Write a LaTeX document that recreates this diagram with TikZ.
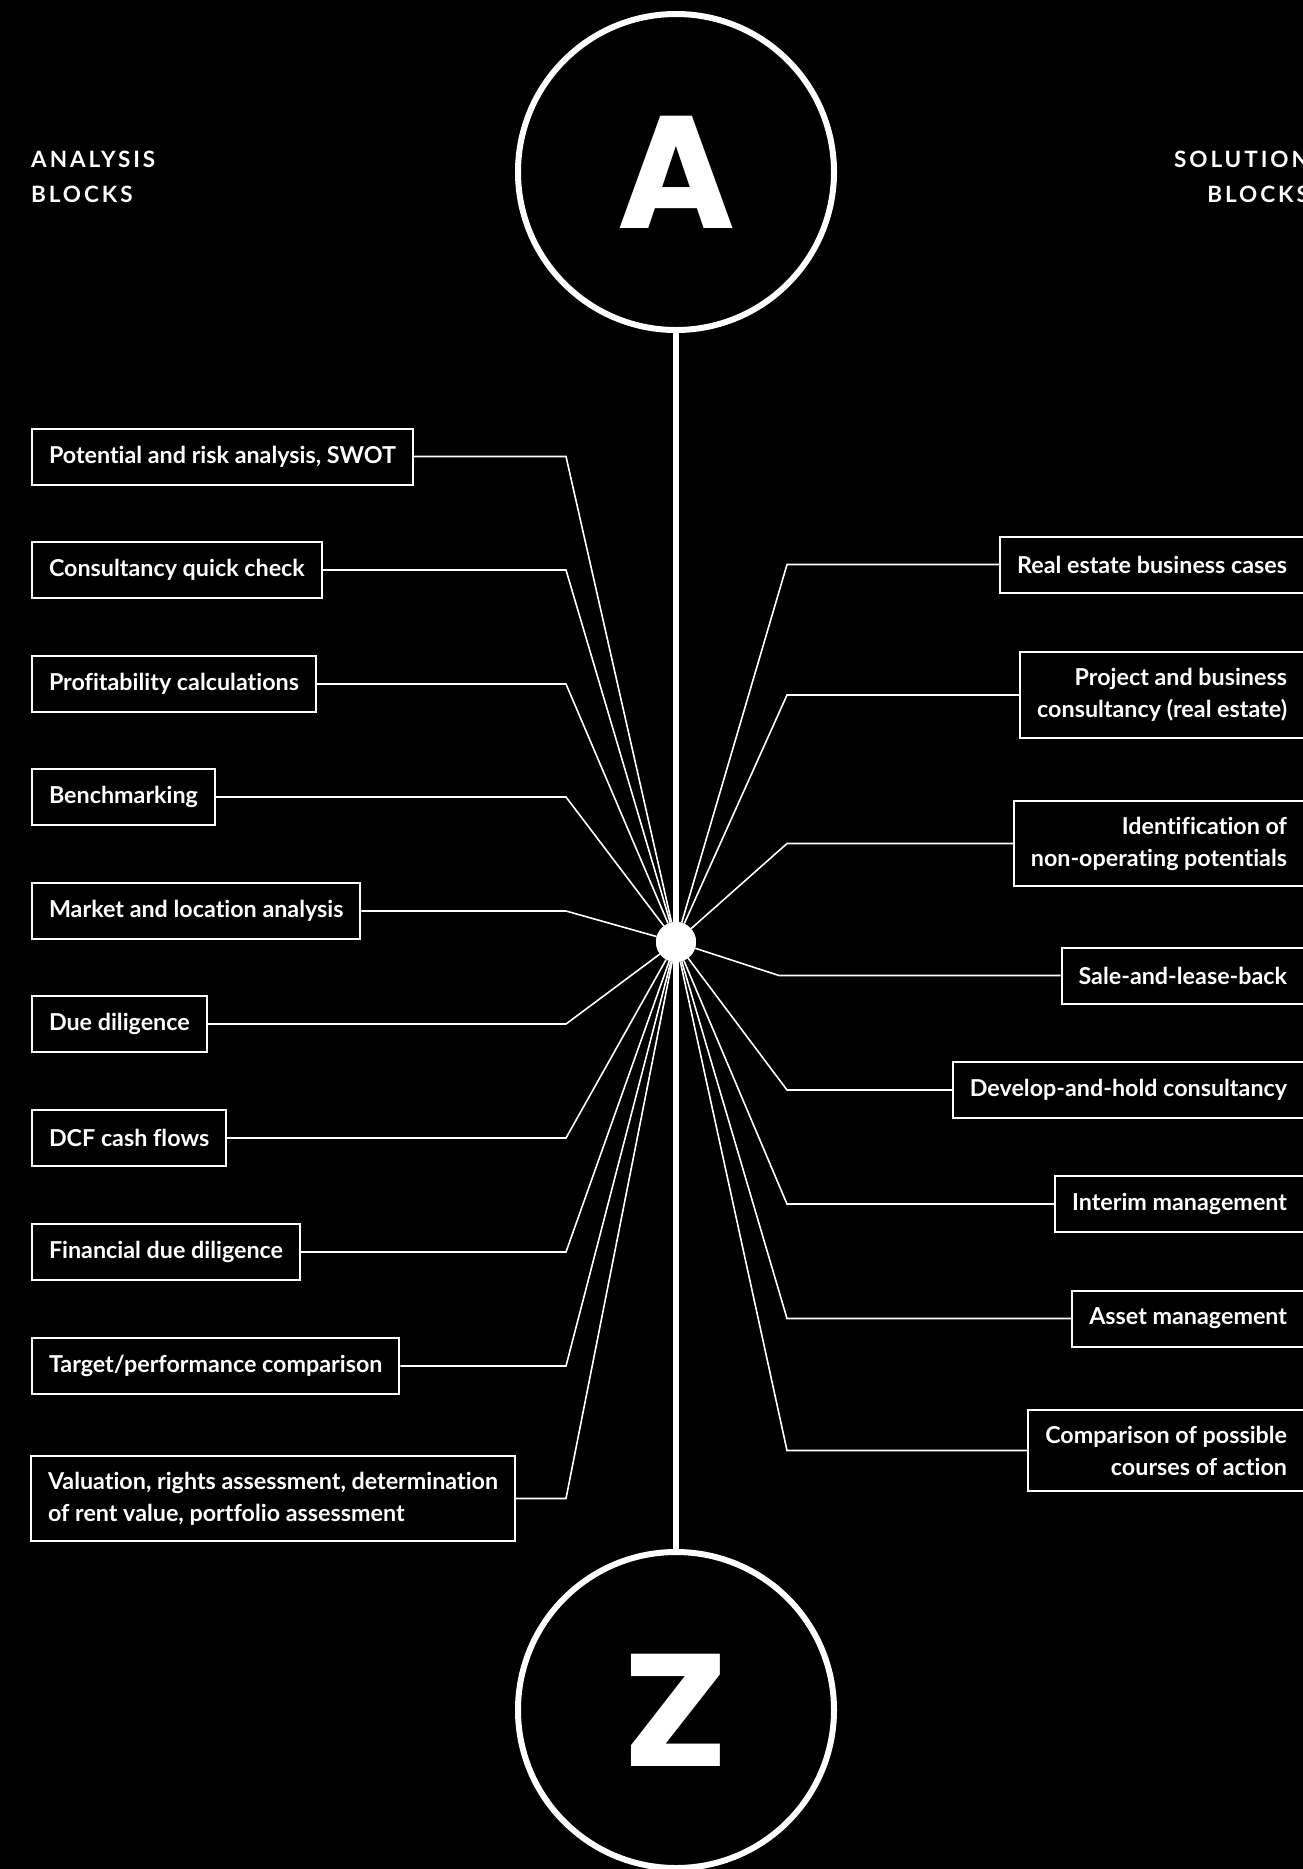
\documentclass[tikz,border=0pt]{standalone}
\usepackage{fontspec}
\setmainfont{Lato}[Ligatures=NoCommon]
\newfontfamily\bigfont{Poppins}
\newfontfamily\headfont{Lato}[LetterSpace=13]
\begin{document}
\begin{tikzpicture}[x=1pt,y=-1pt,
  box/.style={draw=white, line width=2pt, text=white, font=\bfseries\fontsize{23.3}{32}\selectfont, inner xsep=17pt, inner ysep=16pt, minimum height=56pt},
  conn/.style={draw=white, line width=1.6pt},
  bigcirc/.style={circle, draw=white, line width=6pt, minimum size=316pt, inner sep=0pt, text=white, font=\bigfont\bfseries\fontsize{160}{160}\selectfont},
  head/.style={text=white, inner sep=0pt, font=\headfont\bfseries\fontsize{22.5}{35}\selectfont}]
\fill[black] (0,0) rectangle (1303,1869);
\useasboundingbox (0,0) rectangle (1303,1869);

% headings
\node[head, anchor=north west, align=left] (ha) at (31,151) {ANALYSIS\\BLOCKS};
\node[head, anchor=north east, align=right] (hs) at (1309,151) {SOLUTION\\BLOCKS};

% big circles
\node[bigcirc] (A) at (676,172) {A};
\node[bigcirc] (Z) at (676,1710) {\scalebox{1.12}[1]{Z}};
\draw[white, line width=6pt] (A.south) -- (Z.north);

% hub
\node[circle, fill=white, minimum size=40pt, inner sep=0pt] (hub) at (676,942) {};

% joint columns
\coordinate (jl) at (566,0);
\coordinate (jr) at (787,0);
\coordinate (js) at (779,0);

% left boxes
\node[box, anchor=west] (L1) at (31,456.5) {Potential and risk analysis, SWOT};
\node[box, anchor=west] (L2) at (31,570) {Consultancy quick check};
\node[box, anchor=west] (L3) at (31,684) {Profitability calculations};
\node[box, anchor=west] (L4) at (31,797) {Benchmarking};
\node[box, anchor=west] (L5) at (31,911) {Market and location analysis};
\node[box, anchor=west] (L6) at (31,1024) {Due diligence};
\node[box, anchor=west] (L7) at (31,1138) {DCF cash flows};
\node[box, anchor=west] (L8) at (31,1252) {Financial due diligence};
\node[box, anchor=west] (L9) at (31,1366) {Target/performance comparison};
\node[box, anchor=west, align=left] (L10) at (30,1498.5) {Valuation, rights assessment, determination\\of rent value, portfolio assessment};

% right boxes
\node[box, anchor=east] (R1) at (1305,564.5) {Real estate business cases};
\node[box, anchor=east, align=right] (R2) at (1305,695) {Project and business\\consultancy (real estate)};
\node[box, anchor=east, align=right] (R3) at (1305,843.5) {Identification of\\non-operating potentials};
\node[box, anchor=east] (R4) at (1305,975.5) {Sale-and-lease-back};
\node[box, anchor=east] (R5) at (1305,1090) {Develop-and-hold consultancy};
\node[box, anchor=east] (R6) at (1305,1204) {Interim management};
\node[box, anchor=east] (R7) at (1305,1318.5) {Asset management};
\node[box, anchor=east, align=right] (R8) at (1305,1450.5) {Comparison of possible\\courses of action};

% connectors left
\foreach \n in {L1,L2,L3,L4,L5,L6,L7,L8,L9,L10}{
  \draw[conn] (\n.east) -- (\n.east -| jl) -- (hub);
}
% connectors right
\foreach \n in {R1,R2,R3,R5,R6,R7,R8}{
  \draw[conn] (\n.west) -- (\n.west -| jr) -- (hub);
}
\draw[conn] (R4.west) -- (R4.west -| js) -- (hub);

% hub on top
\node[circle, fill=white, minimum size=40pt, inner sep=0pt] at (hub) {};
\end{tikzpicture}
\end{document}
